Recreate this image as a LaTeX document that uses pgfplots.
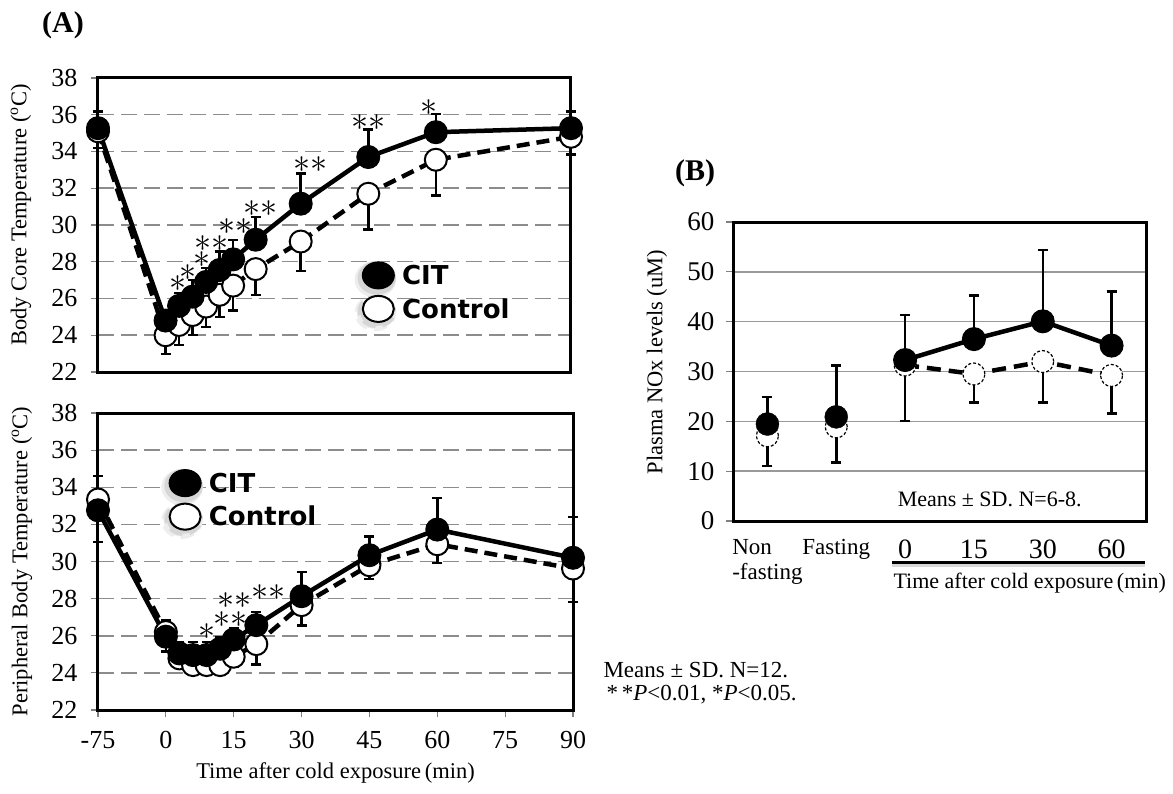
\RequirePackage{fix-cm}
\documentclass[border=0pt]{standalone}
\usepackage{fontspec}
\setmainfont{Liberation Serif}
\newfontfamily\legfont{DejaVu Sans}
\usepackage{pgfplots}
\usepackage{pgfplotstable}
\pgfplotsset{compat=1.18}

\pgfplotstableread{
x cit citerr ctl ctlerr
-15 35.27 0.90 35.10 0.90
0 24.80 0.55 24.00 1.03
3 25.60 0.70 24.56 1.10
6 26.10 0.90 25.10 1.10
9 26.90 0.76 25.56 1.10
12 27.55 1.00 26.20 1.20
15 28.13 1.05 26.70 1.35
20 29.20 1.23 27.60 1.40
30 31.16 1.65 29.10 1.60
45 33.70 1.50 31.70 1.95
60 35.05 1.00 33.55 1.95
90 35.27 0.90 34.80 0.95
}\tabcore

\pgfplotstableread{
x cit citerr ctl ctlerr
-15 32.76 1.85 33.34 2.30
0 25.95 0.90 26.20 1.06
3 25.05 0.60 24.78 0.50
6 24.96 0.70 24.42 0.50
9 24.96 0.70 24.42 0.50
12 25.30 0.60 24.42 0.50
15 25.80 0.60 24.87 0.54
20 26.57 0.70 25.55 1.10
30 28.13 1.30 27.65 1.10
45 30.34 1.00 29.80 0.75
60 31.72 1.70 30.93 1.00
90 30.20 2.20 29.62 1.80
}\tabperi

\pgfplotstableread{
x cit citerr ctl ctlerr
1 19.46 5.40 17.10 6.10
2 20.90 10.30 18.90 7.20
}\tabBpre

\pgfplotstableread{
x cit citerr ctl ctlerr
3 32.30 9.00 31.30 11.20
4 36.50 8.80 29.50 5.70
5 40.07 14.30 32.00 8.20
6 35.20 10.90 29.20 7.60
}\tabBpost

\tikzset{astnode/.style={font=\fontsize{34}{34}\selectfont, inner sep=0pt}}

\pgfplotsset{
  basepanel/.style={
    scale only axis,
    axis line style={line width=3pt},
    tick pos=left, tick align=outside, major tick length=7pt,
    tick style={black!50, line width=1.2pt},
    clip=false,
    /pgf/number format/assume math mode=true,
    label style={font=\fontsize{22.5}{25}\selectfont},
  },
  citline/.style={black, line width=4.5pt, mark=*, mark size=11.5pt,
    mark options={solid, fill=black, draw=black, line width=1pt}},
  ctlline/.style={black, line width=4.5pt, dash pattern=on 13pt off 7pt,
    mark=*, mark size=11pt,
    mark options={solid, fill=white, draw=black, line width=2pt}},
  errplus/.style={error bars/.cd, y dir=plus, y explicit,
    error bar style={solid, line width=2.5pt, black},
    error mark options={solid, line width=2.5pt, black, mark size=5pt, rotate=90}},
  errminus/.style={error bars/.cd, y dir=minus, y explicit,
    error bar style={solid, line width=2.5pt, black},
    error mark options={solid, line width=2.5pt, black, mark size=5pt, rotate=90}},
  legcit/.style={legend image code/.code={
    \fill[black!7] (-3pt,-4pt) ellipse (18.5pt and 16pt);
    \fill[black!16] (-1.5pt,-2.5pt) ellipse (17pt and 14.5pt);
    \draw[solid, line width=1pt, fill=black] (0pt,0pt) ellipse (16pt and 13.5pt);}},
  legctl/.style={legend image code/.code={
    \fill[black!7] (-3pt,-4pt) ellipse (18.5pt and 16pt);
    \fill[black!16] (-1.5pt,-2.5pt) ellipse (17pt and 14.5pt);
    \draw[solid, line width=2pt, fill=white] (0pt,0pt) ellipse (15.5pt and 13pt);}},
}

\newcommand{\sta}{$\ast$}
\newcommand{\stb}{${\ast}{\ast}$}

\begin{document}
\begin{tikzpicture}
\path (0pt,0pt) rectangle (1173pt,-794pt);

\node[font=\bfseries\fontsize{30}{30}\selectfont] at (63pt,-25pt) {(A)};
\node[font=\bfseries\fontsize{30}{30}\selectfont] at (695pt,-173pt) {(B)};

% ---------- top panel ----------
\begin{axis}[basepanel,
  at={(98pt,-372pt)}, anchor=south west,
  width=473pt, height=294pt,
  xmin=-15, xmax=90, ymin=22, ymax=38,
  ytick={22,24,...,38}, xtick=\empty,
  ymajorgrids,
  grid style={black!45, line width=1.5pt, dash pattern=on 16pt off 7pt},
  yticklabel style={font=\fontsize{26}{26}\selectfont},
  yticklabel shift=10pt,
  ylabel={Body Core Temperature (\textsuperscript{o}C)},
  ylabel style={at={(axis description cs:-0.163,0.534)}, anchor=center},
  legend style={at={(0.542,0.258)}, anchor=west, draw=none, fill=none,
    inner sep=0pt, font=\legfont\bfseries\fontsize{26}{26}\selectfont,
    column sep=6pt, row sep=-3pt, nodes={inner sep=0pt}},
  legend cell align=left, reverse legend,
]
\addplot[ctlline, legctl, errminus] table[x=x, y=ctl, y error=ctlerr] {\tabcore};
\addlegendentry{Control}
\addplot[citline, legcit, errplus] table[x=x, y=cit, y error=citerr] {\tabcore};
\addlegendentry{CIT}
\node[astnode] at (axis cs:2.7,26.8) {\sta};
\node[astnode] at (axis cs:4.9,27.4) {\sta};
\node[astnode] at (axis cs:8.0,28.1) {\sta};
\node[astnode] at (axis cs:10.2,29.0) {\stb};
\node[astnode] at (axis cs:15.5,29.9) {\stb};
\node[astnode] at (axis cs:21.1,30.9) {\stb};
\node[astnode] at (axis cs:32.1,33.27) {\stb};
\node[astnode] at (axis cs:45,35.6) {\stb};
\node[astnode] at (axis cs:58.5,36.4) {\sta};
\end{axis}

% ---------- bottom panel ----------
\begin{axis}[basepanel,
  at={(98pt,-710pt)}, anchor=south west,
  width=475pt, height=297pt,
  xmin=-15, xmax=90, ymin=22, ymax=38,
  ytick={22,24,...,38},
  xtick={-15,0,15,30,45,60,75,90},
  xticklabels={-75,0,15,30,45,60,75,90},
  ymajorgrids,
  grid style={black!45, line width=1.5pt, dash pattern=on 16pt off 7pt},
  ticklabel style={font=\fontsize{26}{26}\selectfont},
  yticklabel shift=10pt,
  xticklabel style={yshift=-11pt},
  ylabel={Peripheral Body Temperature (\textsuperscript{o}C)},
  ylabel style={at={(axis description cs:-0.16,0.5)}, anchor=center},
  xlabel={Time after cold exposure\,(min)},
  xlabel style={at={(axis description cs:0.5,-0.212)}, anchor=center},
  legend style={at={(0.133,0.694)}, anchor=west, draw=none, fill=none,
    inner sep=0pt, font=\legfont\bfseries\fontsize{26}{26}\selectfont,
    column sep=6pt, row sep=-3pt, nodes={inner sep=0pt}},
  legend cell align=left, reverse legend,
]
\addplot[ctlline, legctl, errminus] table[x=x, y=ctl, y error=ctlerr] {\tabperi};
\addlegendentry{Control}
\addplot[citline, legcit, errplus] table[x=x, y=cit, y error=citerr] {\tabperi};
\addlegendentry{CIT}
\node[astnode] at (axis cs:9.1,26.2) {\sta};
\node[astnode] at (axis cs:14.2,26.85) {\stb};
\node[astnode] at (axis cs:15.1,27.92) {\stb};
\node[astnode] at (axis cs:22.6,28.3) {\stb};
\end{axis}

% ---------- panel B ----------
\begin{axis}[basepanel,
  at={(733pt,-521pt)}, anchor=south west,
  width=413pt, height=299pt,
  xmin=0.5, xmax=6.5, ymin=0, ymax=60,
  ytick={0,10,...,60},
  xtick={1,...,6},
  xticklabels={{Non\\-fasting},{\raisebox{-9pt}{Fasting}},{\fontsize{28}{28}\selectfont 0},{\fontsize{28}{28}\selectfont 15},{\fontsize{28}{28}\selectfont 30},{\fontsize{28}{28}\selectfont 60}},
  xticklabel style={font=\fontsize{23}{25}\selectfont, align=left, anchor=north, yshift=-8pt},
  major x tick style={draw=none},
  extra x ticks={0.5,1.5,2.5,3.5,4.5,5.5,6.5},
  extra x tick labels={},
  extra x tick style={major x tick style={black!50, line width=1.2pt}},
  ymajorgrids,
  grid style={black!40, line width=1.5pt},
  yticklabel style={font=\fontsize{27}{27}\selectfont},
  yticklabel shift=8pt,
  ylabel={Plasma NOx levels (uM)},
  ylabel style={at={(axis description cs:-0.184,0.532)}, anchor=center},
]
\addplot[only marks, mark=*, mark size=11pt,
  mark options={fill=white, draw=black, line width=1.2pt, dash pattern=on 3pt off 2pt},
  errminus] table[x=x, y=ctl, y error=ctlerr] {\tabBpre};
\addplot[black, line width=4.5pt, dash pattern=on 14pt off 8pt, mark=*, mark size=11pt,
  mark options={fill=white, draw=black, line width=1.2pt, dash pattern=on 3pt off 2pt},
  errminus] table[x=x, y=ctl, y error=ctlerr] {\tabBpost};
\addplot[only marks, mark=*, mark size=11.5pt, mark options={fill=black, draw=black},
  errplus] table[x=x, y=cit, y error=citerr] {\tabBpre};
\addplot[citline, errplus] table[x=x, y=cit, y error=citerr] {\tabBpost};
\draw[line width=3pt, black!15] (axis cs:2.81,-8.85) -- (axis cs:6.49,-8.85);
\draw[line width=3pt] (axis cs:2.81,-8.23) -- (axis cs:6.49,-8.23);
\node[font=\fontsize{22}{24}\selectfont] at (axis cs:4.81,-12.44) {Time after cold exposure\,(min)};
\node[font=\fontsize{22}{24}\selectfont] at (axis cs:4.23,4.41) {Means ± SD. N=6-8.};
\end{axis}

\node[anchor=west, font=\fontsize{23}{25}\selectfont] at (600pt,-670pt) {Means ± SD. N=12.};
\node[anchor=west, font=\fontsize{23}{25}\selectfont] at (603pt,-695pt) {*\,*\textit{P}<0.01, *\textit{P}<0.05.};
\end{tikzpicture}
\end{document}
